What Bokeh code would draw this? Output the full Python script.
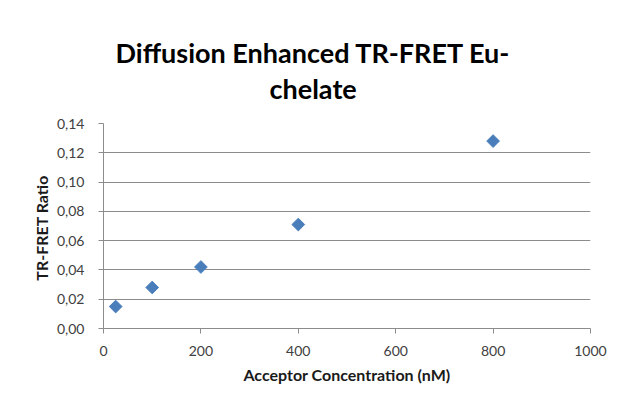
from bokeh.plotting import figure
from bokeh.models import Range1d, CustomJSTickFormatter, FixedTicker, Title
from bokeh.embed import file_html
from bokeh.resources import INLINE
import math

# Data
concentration = [25, 100, 200, 400, 800]
tr_fret_ratio = [0.015, 0.028, 0.042, 0.071, 0.128]
x_ticks = [0, 200, 400, 600, 800, 1000]
y_ticks = [0.00, 0.02, 0.04, 0.06, 0.08, 0.10, 0.12, 0.14]
title_lines = ["Diffusion Enhanced TR-FRET Eu-", "chelate"]

W, H = 614, 392
p = figure(width=W, height=H, output_backend="svg", toolbar_location=None,
           x_range=Range1d(0, 1000), y_range=Range1d(0, 0.14),
           min_border_left=103, min_border_right=24, min_border_top=123, min_border_bottom=64)
p.outline_line_color = None
p.background_fill_color = "white"
p.border_fill_color = "white"

p.xgrid.grid_line_color = None
p.ygrid.grid_line_color = "#8c8c8c"
p.ygrid.grid_line_width = 1

p.xaxis.ticker = FixedTicker(ticks=x_ticks)
p.yaxis.ticker = FixedTicker(ticks=y_ticks)
p.yaxis.formatter = CustomJSTickFormatter(code="return tick.toFixed(2).replace('.', ',');")

for ax in (p.xaxis[0], p.yaxis[0]):
    ax.axis_line_color = "#8c8c8c"
    ax.major_tick_line_color = "#8c8c8c"
    ax.major_tick_out = 5
    ax.major_tick_in = 0
    ax.minor_tick_line_color = None
    ax.major_label_text_font = "Lato"
    ax.major_label_text_font_size = "14px"
    ax.major_label_text_color = "#404040"
    ax.axis_label_text_font = "Lato"
    ax.axis_label_text_font_style = "bold"
    ax.axis_label_text_color = "#1a1a1a"

p.xaxis.axis_label = "Acceptor Concentration (nM)"
p.xaxis.axis_label_text_font_size = "16px"
p.xaxis.major_label_standoff = 12
p.xaxis.axis_label_standoff = 6
p.yaxis.axis_label = "TR-FRET  Ratio"
p.yaxis.axis_label_text_font_size = "16px"
p.yaxis.major_label_standoff = 14
p.yaxis.axis_label_standoff = 3

p.scatter(concentration, tr_fret_ratio, marker="square", size=9, angle=math.pi / 4,
          fill_color="#4a7ebb", line_color="#4a7ebb")

# second line first (closest to the plot), then first line above it
p.add_layout(Title(text=title_lines[1], align="left", offset=166,
                   text_font="Lato", text_font_style="bold", text_font_size="27px",
                   text_color="#000000", standoff=38), "above")
p.add_layout(Title(text=title_lines[0], align="left", offset=12,
                   text_font="Lato", text_font_style="bold", text_font_size="27px",
                   text_color="#000000", standoff=-36), "above")

open("out.html", "w").write(file_html(p, INLINE))
